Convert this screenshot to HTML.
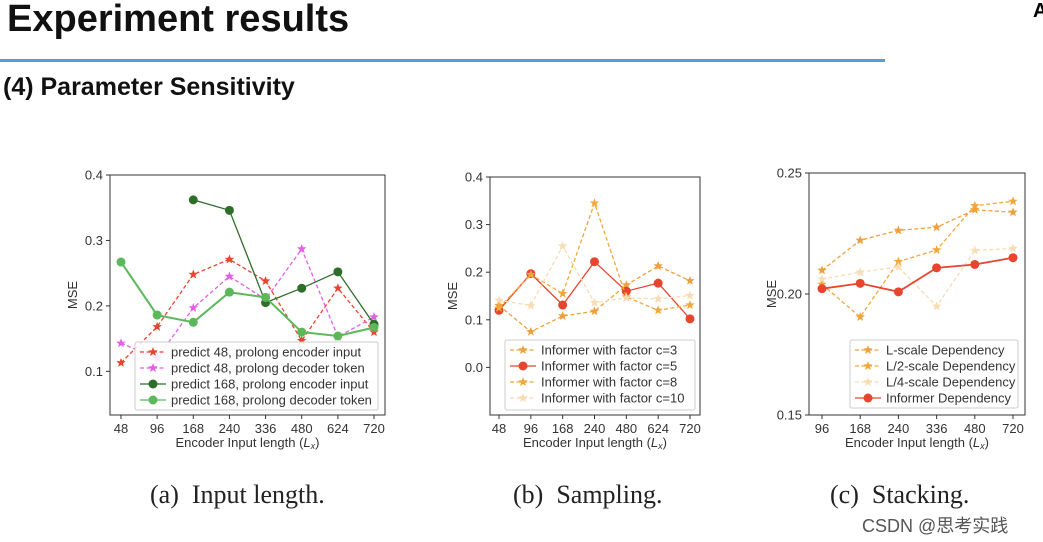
<!DOCTYPE html>
<html><head><meta charset="utf-8"><style>
html,body{margin:0;padding:0;background:#fff;width:1043px;height:542px;overflow:hidden;position:relative;font-family:"Liberation Sans",sans-serif}
#title{position:absolute;left:7px;top:-2px;font-size:38px;font-weight:bold;color:#111}
#rule{position:absolute;left:0;top:59px;width:885px;height:3px;background:#5b9bd5}
#sub{position:absolute;left:3px;top:73px;font-size:25px;font-weight:bold;color:#111}
.cap{position:absolute;top:480px;font-family:"Liberation Serif",serif;font-size:26px;color:#222}
#csdn{position:absolute;left:862px;top:512px;font-size:18px;color:#555;font-family:"Liberation Sans","Noto Sans CJK SC",sans-serif}
#corner{position:absolute;left:1033px;top:0px;font-size:20px;font-weight:bold}
svg{position:absolute;left:0;top:0}
</style></head><body>
<div id="title">Experiment results</div>
<div id="rule"></div>
<div id="corner">A</div>
<div id="sub">(4) Parameter Sensitivity</div>
<div class="cap" style="left:150px">(a)&nbsp; Input length.</div>
<div class="cap" style="left:513px">(b)&nbsp; Sampling.</div>
<div class="cap" style="left:830px">(c)&nbsp; Stacking.</div>
<div id="csdn">CSDN @思考实践</div>
<svg id="svg" width="1043" height="542"></svg>
<script>
// Chart A data
const catsA=["48","96","168","240","336","480","624","720"];
const a_red=[0.113,0.168,0.248,0.271,0.238,0.147,0.227,0.160];
const a_mag=[0.143,0.120,0.197,0.245,0.210,0.287,0.153,0.183];
const a_dg=[null,null,0.362,0.346,0.205,0.227,0.252,0.172];
const a_lg=[0.267,0.186,0.175,0.221,0.213,0.160,0.154,0.167];
const ticksA=[0.1,0.2,0.3,0.4];
// Chart B data
const catsB=["48","96","168","240","480","624","720"];
const b_c3=[0.130,0.075,0.108,0.118,0.173,0.213,0.182];
const b_c5=[0.120,0.197,0.131,0.222,0.160,0.177,0.102];
const b_c8=[0.125,0.195,0.155,0.345,0.148,0.120,0.131];
const b_c10=[0.141,0.130,0.255,0.136,0.146,0.144,0.151];
const ticksB=[0.0,0.1,0.2,0.3,0.4];
// Chart C data
const catsC=["96","168","240","336","480","720"];
const c_L=[0.2098,0.2222,0.2263,0.2276,0.2348,0.2338];
const c_L2=[0.2040,0.1905,0.2134,0.2182,0.2365,0.2383];
const c_L4=[0.2061,0.2090,0.2112,0.1949,0.2180,0.2188];
const c_inf=[0.2022,0.2044,0.2009,0.2108,0.2122,0.2150];
const ticksC=[0.15,0.20,0.25];

const NS="http://www.w3.org/2000/svg";
const svg=document.getElementById('svg');
const FS=13;
function mk(tag,attrs,parent){const e=document.createElementNS(NS,tag);for(const k in attrs)e.setAttribute(k,attrs[k]);(parent||svg).appendChild(e);return e;}
function star(cx,cy,r){let p=[];for(let i=0;i<10;i++){const rr=i%2?r*0.42:r;const a=-Math.PI/2+i*Math.PI/5;p.push((cx+rr*Math.cos(a)).toFixed(1)+','+(cy+rr*Math.sin(a)).toFixed(1));}return p.join(' ');}
function chart(cfg){
  const g=mk('g',{});
  
  
  const {x0,x1,y0,y1,xa,xb,ymin,ymax}=cfg;
  const n=cfg.cats.length;
  const X=i=>xa+(xb-xa)*i/(n-1);
  const Y=v=>y1-(v-ymin)/(ymax-ymin)*(y1-y0);
  cfg.series.forEach(s=>{
    const sg=mk('g',{},g);
    
    
    let d='';let pen=false;
    s.v.forEach((v,i)=>{if(v==null){pen=false;return;}d+=(pen?'L':'M')+X(i).toFixed(1)+' '+Y(v).toFixed(1);pen=true;});
    mk('path',{d:d,fill:'none',stroke:s.c,'stroke-width':s.w||1.3,'stroke-dasharray':s.dash?'4 2.5':''},sg);
    s.v.forEach((v,i)=>{if(v==null)return;
      const m=s.m==='o'?mk('circle',{cx:X(i),cy:Y(v),r:4.5,fill:s.c},sg):mk('polygon',{points:star(X(i),Y(v),5),fill:s.c},sg);
      
      
    });
  });
  const fr=mk('rect',{x:x0,y:y0,width:x1-x0,height:y1-y0,fill:'none',stroke:'#333','stroke-width':1},g);
  
  
  cfg.ticks.forEach(t=>{
    mk('line',{x1:x0-4,x2:x0,y1:Y(t),y2:Y(t),stroke:'#333'},g);
    const tx=mk('text',{x:x0-7,y:Y(t)+4.5,'text-anchor':'end','font-size':FS,fill:'#333'},g);
    tx.textContent=t.toFixed(cfg.dec);
    
    
  });
  cfg.cats.forEach((c,i)=>{
    mk('line',{x1:X(i),x2:X(i),y1:y1,y2:y1+4,stroke:'#333'},g);
    const tx=mk('text',{x:X(i),y:y1+18,'text-anchor':'middle','font-size':FS,fill:'#333'},g);
    tx.textContent=c;
    
    
  });
  const xt=mk('text',{x:(x0+x1)/2,y:y1+32,'text-anchor':'middle','font-size':FS,fill:'#333'},g);
  xt.innerHTML='Encoder Input length (<tspan font-style="italic">L</tspan><tspan font-size="9" font-style="italic" dy="2">x</tspan><tspan dy="-2">)</tspan>';
  
  
  const yt=mk('text',{x:0,y:0,transform:`translate(${x0-33},${(y0+y1)/2}) rotate(-90)`,'text-anchor':'middle','font-size':FS,fill:'#333'},g);
  yt.textContent='MSE';
  
  
  const L=cfg.leg;
  const lg=mk('g',{},g);
  
  
  mk('rect',{x:L.x,y:L.y,width:L.w,height:L.h,fill:'#fff','fill-opacity':0.85,stroke:'#ccc',rx:2},lg);
  cfg.series.forEach((s,i)=>{
    const yy=L.y+10+i*16;
    const e=mk('g',{},lg);
    
    
    mk('line',{x1:L.x+5,x2:L.x+31,y1:yy,y2:yy,stroke:s.c,'stroke-width':1.3,'stroke-dasharray':s.dash?'4 2.5':''},e);
    if(s.m==='o')mk('circle',{cx:L.x+18,cy:yy,r:4.5,fill:s.c},e);else mk('polygon',{points:star(L.x+18,yy,5),fill:s.c},e);
    const t=mk('text',{x:L.x+36,y:yy+4.5,'font-size':FS,fill:'#333'},e);
    t.textContent=s.label;
  });
}
chart({name:'chart-input-length',x0:110,x1:385,y0:175,y1:415,xa:121,xb:374,ymin:0.0333,ymax:0.4,dec:1,cats:catsA,ticks:ticksA,
  leg:{x:135,y:342,w:243,h:68},
  series:[
   {id:'series-p48-encoder',v:a_red,c:'#e8452e',m:'s',dash:1,label:'predict 48, prolong encoder input'},
   {id:'series-p48-decoder',v:a_mag,c:'#e35fe3',m:'s',dash:1,label:'predict 48, prolong decoder token'},
   {id:'series-p168-encoder',v:a_dg,c:'#2f6e2a',m:'o',label:'predict 168, prolong encoder input'},
   {id:'series-p168-decoder',v:a_lg,c:'#5cb85a',m:'o',w:2,label:'predict 168, prolong decoder token'}]});
chart({name:'chart-sampling',x0:490,x1:700,y0:177,y1:415,xa:499,xb:690,ymin:-0.1,ymax:0.4,dec:1,cats:catsB,ticks:ticksB,
  leg:{x:505,y:340,w:190,h:70},
  series:[
   {id:'series-c3',v:b_c3,c:'#eea040',m:'s',dash:1,label:'Informer with factor c=3'},
   {id:'series-c5',v:b_c5,c:'#e8452e',m:'o',label:'Informer with factor c=5'},
   {id:'series-c8',v:b_c8,c:'#f2a73c',m:'s',dash:1,label:'Informer with factor c=8'},
   {id:'series-c10',v:b_c10,c:'#f8dcb4',m:'s',dash:1,label:'Informer with factor c=10'}]});
chart({name:'chart-stacking',x0:809,x1:1025,y0:173,y1:415,xa:822,xb:1013,ymin:0.15,ymax:0.25,dec:2,cats:catsC,ticks:ticksC,
  leg:{x:850,y:340,w:168,h:68},
  series:[
   {id:'series-L-scale',v:c_L,c:'#eea040',m:'s',dash:1,label:'L-scale Dependency'},
   {id:'series-L2-scale',v:c_L2,c:'#f2a73c',m:'s',dash:1,label:'L/2-scale Dependency'},
   {id:'series-L4-scale',v:c_L4,c:'#f8dcb4',m:'s',dash:1,label:'L/4-scale Dependency'},
   {id:'series-informer',v:c_inf,c:'#e8452e',m:'o',w:1.8,label:'Informer Dependency'}]});
</script>
</body></html>
